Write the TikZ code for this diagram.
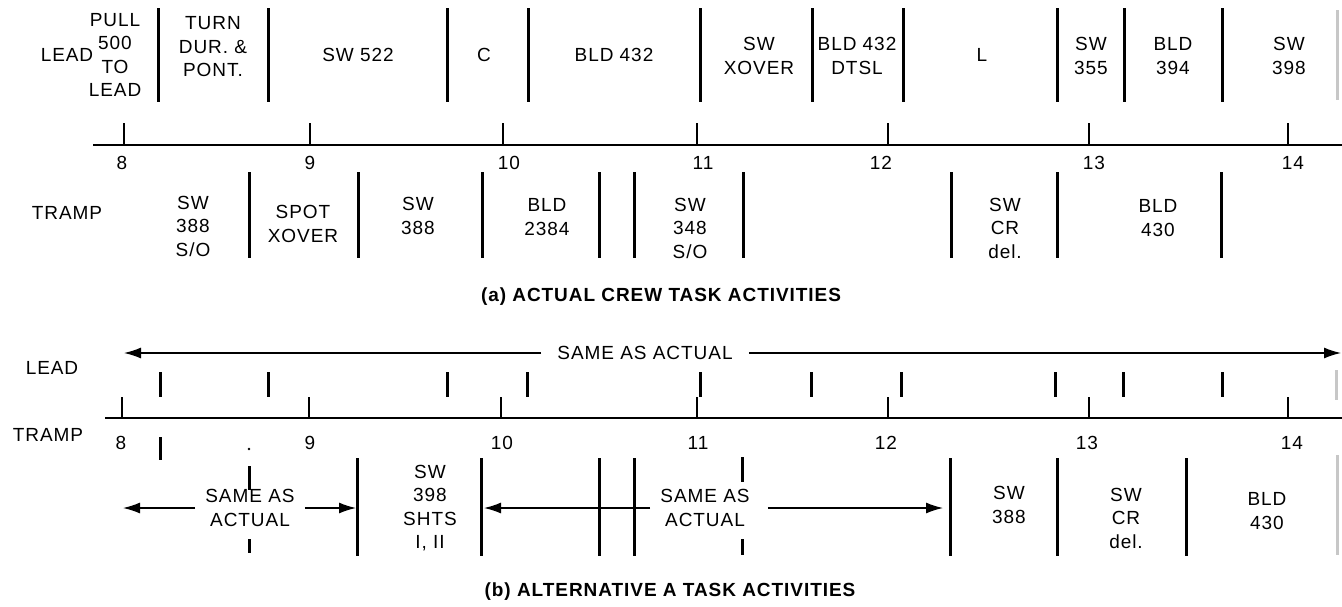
\documentclass[tikz,border=0pt]{standalone}
\usepackage{fontspec}
\setmainfont[LetterSpace=5]{Liberation Sans}
\usetikzlibrary{arrows.meta}

\begin{document}
\begin{tikzpicture}[x=1pt, y=-1pt,
  font=\fontsize{19}{23.5}\selectfont,
  txt/.style={align=center, inner sep=0pt},
  taskbar/.style={line width=3pt},
  edgebar/.style={line width=3pt, black!22},
  hrtick/.style={line width=1.6pt},
  timeaxis/.style={line width=2.6pt},
  ar/.style={line width=1.4pt, -{Latex[length=17pt,width=11pt]}},
  caption/.style={font=\fontsize{19}{22}\selectfont\bfseries}]
\useasboundingbox (0,0) rectangle (1342,606);

% (a) actual crew
\node[txt] (leadA)  at (67,55)  {LEAD};
\node[txt] (trampA) at (67,213) {TRAMP};
\draw[timeaxis] (93,145) -- (1342,145);
\foreach \x/\lx/\h in {124/122/8, 310/310/9, 503/509/10, 697/703/11, 888/881/12, 1089/1094/13, 1288/1293/14}{
  \draw[hrtick] (\x,145) -- (\x,123);
  \node[txt] (hA\h) at (\lx,163) {\h};
}
\foreach \x in {158,268,447,528,700,812,903,1057,1124,1222}
  \draw[taskbar] (\x,8) -- (\x,102);
\draw[edgebar] (1337,10) -- (1337,100);
\foreach \x in {249,358,482,599,634,743,951,1057,1221}
  \draw[taskbar] (\x,172) -- (\x,258);

\node[txt] (pull)  at (115,55)  {PULL\\500\\TO\\LEAD};
\node[txt] (turn)  at (213,47)  {TURN\\DUR. \&\\PONT.};
\node[txt] (sw522) at (358,55)  {SW 522};
\node[txt] (cc)    at (484,55)  {C};
\node[txt] (bld432) at (614,55) {BLD 432};
\node[txt] (swxo)  at (759,56)  {SW\\XOVER};
\node[txt] (dtsl)  at (857,56)  {BLD 432\\DTSL};
\node[txt] (ll)    at (982,55)  {L};
\node[txt] (sw355) at (1091,56) {SW\\355};
\node[txt] (bld394) at (1173,56) {BLD\\394};
\node[txt] (sw398) at (1289,56) {SW\\398};

\node[txt] (sw388so) at (193,226) {SW\\388\\S/O};
\node[txt] (spot)    at (303,224) {SPOT\\XOVER};
\node[txt] (sw388)   at (418,216) {SW\\388};
\node[txt] (bld2384) at (547,217) {BLD\\2384};
\node[txt] (sw348so) at (690,228) {SW\\348\\S/O};
\node[txt] (swcrA)   at (1005,228) {SW\\CR\\del.};
\node[txt] (bld430A) at (1158,218) {BLD\\430};

\node[caption] (capA) at (661,297) {(a) ACTUAL CREW TASK ACTIVITIES};

% (b) alternative A
\node[txt] (leadB)  at (52,368) {LEAD};
\node[txt] (trampB) at (48,435) {TRAMP};
\node[txt, inner xsep=16pt] (sameL) at (645,353) {SAME AS ACTUAL};
\draw[ar] (sameL.west) -- (124,353);
\draw[ar] (sameL.east) -- (1341,353);
\foreach \x in {160,268,447,527,700,811,901,1055,1123,1222}
  \draw[taskbar] (\x,372) -- (\x,397);
\draw[edgebar] (1336,370) -- (1336,400);
\draw[timeaxis] (105,418) -- (1342,418);
\foreach \x/\lx/\h in {122/121/8, 309/310/9, 501/502/10, 697/698/11, 888/886/12, 1089/1087/13, 1288/1292/14}{
  \draw[hrtick] (\x,418) -- (\x,397);
  \node[txt] (hB\h) at (\lx,443) {\h};
}
\draw[taskbar] (160,437) -- (160,460);
\fill (249,449) circle (1.4pt);
\draw[taskbar] (249,466) -- (249,490) (249,539) -- (249,553);
\draw[taskbar] (742,457) -- (742,482) (742,539) -- (742,555);
\foreach \x in {357,481,599,634,950,1057,1186}
  \draw[taskbar] (\x,458) -- (\x,556);
\draw[edgebar] (1337,455) -- (1337,555);

\node[txt, inner xsep=10pt] (sameA) at (250,508) {SAME AS\\ACTUAL};
\draw[ar] (sameA.west) -- (123,508);
\draw[ar] (sameA.east) -- (356,508);
\node[txt, inner xsep=10pt] (sameB) at (705,508) {SAME AS\\ACTUAL};
\draw[ar] (sameB.west) -- (484,508);
\draw[ar] ([xshift=8pt]sameB.east) -- (943,508);

\node[txt] (sw398b)  at (430,508)  {SW\\398\\SHTS\\I, II};
\node[txt] (sw388b)  at (1009,505) {SW\\388};
\node[txt] (swcrB)   at (1126,518) {SW\\CR\\del.};
\node[txt] (bld430B) at (1267,511) {BLD\\430};

\node[caption] (capB) at (670,592) {(b) ALTERNATIVE A TASK ACTIVITIES};
\end{tikzpicture}
\end{document}
